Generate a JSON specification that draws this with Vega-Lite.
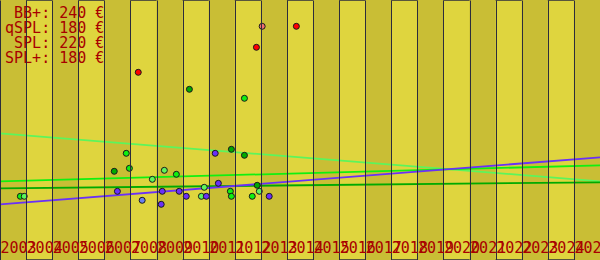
{
  "$schema": "https://vega.github.io/schema/vega-lite/v6.json",
  "width": 600,
  "height": 260,
  "autosize": {"type": "none"},
  "padding": 0,
  "background": "#dfd53e",
  "config": {"view": {"stroke": "#2c2c3c", "strokeWidth": 1.5}},
  "datasets": {
    "baender": [
      {"von": 2003, "bis": 2004}, {"von": 2005, "bis": 2006}, {"von": 2007, "bis": 2008},
      {"von": 2009, "bis": 2010}, {"von": 2011, "bis": 2012}, {"von": 2013, "bis": 2014},
      {"von": 2015, "bis": 2016}, {"von": 2017, "bis": 2018}, {"von": 2019, "bis": 2020},
      {"von": 2021, "bis": 2022}, {"von": 2023, "bis": 2024}, {"von": 2025, "bis": 2026}
    ],
    "trends": [
      {"gruppe": "SPL+", "jahr": 2003, "preis": 126.7}, {"gruppe": "SPL+", "jahr": 2026, "preis": 78.7},
      {"gruppe": "SPL", "jahr": 2003, "preis": 78.7}, {"gruppe": "SPL", "jahr": 2026, "preis": 94.7},
      {"gruppe": "qSPL", "jahr": 2003, "preis": 71.7}, {"gruppe": "qSPL", "jahr": 2026, "preis": 77.7},
      {"gruppe": "BB+", "jahr": 2003, "preis": 55.7}, {"gruppe": "BB+", "jahr": 2026, "preis": 102.7}
    ],
    "angebote": [
      {"gruppe": "Top", "jahr": 2008.30, "preis": 187.7},
      {"gruppe": "Top", "jahr": 2012.83, "preis": 212.7},
      {"gruppe": "Top", "jahr": 2014.36, "preis": 233.7},
      {"gruppe": "Top2", "jahr": 2013.05, "preis": 233.7},
      {"gruppe": "qSPL", "jahr": 2010.26, "preis": 170.7},
      {"gruppe": "qSPL", "jahr": 2007.38, "preis": 88.7},
      {"gruppe": "qSPL", "jahr": 2011.87, "preis": 110.7},
      {"gruppe": "qSPL", "jahr": 2012.37, "preis": 104.7},
      {"gruppe": "qSPL", "jahr": 2012.86, "preis": 74.7},
      {"gruppe": "SPL", "jahr": 2012.37, "preis": 161.7},
      {"gruppe": "SPL", "jahr": 2003.78, "preis": 63.7},
      {"gruppe": "SPL", "jahr": 2007.84, "preis": 106.7},
      {"gruppe": "SPL", "jahr": 2007.96, "preis": 91.7},
      {"gruppe": "SPL", "jahr": 2009.76, "preis": 85.7},
      {"gruppe": "SPL", "jahr": 2011.83, "preis": 68.7},
      {"gruppe": "SPL", "jahr": 2011.87, "preis": 63.7},
      {"gruppe": "SPL", "jahr": 2012.67, "preis": 63.7},
      {"gruppe": "SPL+", "jahr": 2003.93, "preis": 63.7},
      {"gruppe": "SPL+", "jahr": 2008.84, "preis": 80.7},
      {"gruppe": "SPL+", "jahr": 2009.30, "preis": 89.7},
      {"gruppe": "SPL+", "jahr": 2010.83, "preis": 72.7},
      {"gruppe": "SPL+", "jahr": 2010.72, "preis": 63.7},
      {"gruppe": "SPL+", "jahr": 2012.94, "preis": 68.7},
      {"gruppe": "BB+", "jahr": 2007.50, "preis": 68.7},
      {"gruppe": "BB+", "jahr": 2009.22, "preis": 68.7},
      {"gruppe": "BB+", "jahr": 2009.18, "preis": 55.7},
      {"gruppe": "BB+", "jahr": 2009.87, "preis": 68.7},
      {"gruppe": "BB+", "jahr": 2010.14, "preis": 63.7},
      {"gruppe": "BB+", "jahr": 2010.91, "preis": 63.7},
      {"gruppe": "BB+", "jahr": 2011.25, "preis": 106.7},
      {"gruppe": "BB+", "jahr": 2011.37, "preis": 76.7},
      {"gruppe": "BB+", "jahr": 2013.32, "preis": 63.7},
      {"gruppe": "BB", "jahr": 2008.45, "preis": 59.7}
    ],
    "preise": [
      {"zeilen": ["BB+: 240 €", "qSPL: 180 €", " SPL: 220 €", "SPL+: 180 €"]}
    ]
  },
  "layer": [
    {
      "data": {"name": "baender"},
      "mark": {"type": "rect", "color": "#c9be35"},
      "encoding": {
        "x": {
          "field": "von", "type": "quantitative",
          "scale": {"domain": [2003, 2026], "nice": false, "zero": false},
          "axis": {
            "values": [2003, 2004, 2005, 2006, 2007, 2008, 2009, 2010, 2011, 2012, 2013, 2014, 2015, 2016, 2017, 2018, 2019, 2020, 2021, 2022, 2023, 2024, 2025],
            "tickCount": 40,
            "format": "d",
            "title": null,
            "domain": false,
            "ticks": false,
            "tickSize": 0,
            "grid": true,
            "gridColor": "#2c2c3c",
            "gridOpacity": 1,
            "gridWidth": 1,
            "offset": -8,
            "labelPadding": 0,
            "labelAlign": "left",
            "labelBaseline": "alphabetic",
            "labelColor": "#a80000",
            "labelFont": "DejaVu Sans Mono",
            "labelFontSize": 15,
            "labelOverlap": false,
            "labelBound": false,
            "labelFlush": false,
            "zindex": 1
          }
        },
        "x2": {"field": "bis"}
      }
    },
    {
      "data": {"name": "trends"},
      "mark": {"type": "line", "strokeWidth": 1.8},
      "encoding": {
        "x": {"field": "jahr", "type": "quantitative"},
        "y": {"field": "preis", "type": "quantitative", "scale": {"domain": [0, 260], "nice": false, "zero": false}, "axis": null},
        "color": {"field": "gruppe", "type": "nominal", "legend": null,
          "scale": {"domain": ["SPL+", "SPL", "qSPL", "BB+", "BB", "Top", "Top2"],
                    "range": ["#5cf55c", "#10f010", "#00aa00", "#6a30f8", "#6a80f0", "#ff0000", "#f07070"]}}
      }
    },
    {
      "data": {"name": "angebote"},
      "mark": {"type": "circle", "size": 36, "opacity": 1, "stroke": "#1a1a1a", "strokeWidth": 1},
      "encoding": {
        "x": {"field": "jahr", "type": "quantitative"},
        "y": {"field": "preis", "type": "quantitative"},
        "color": {"field": "gruppe", "type": "nominal"}
      }
    },
    {
      "data": {"name": "preise"},
      "mark": {"type": "text", "align": "right", "baseline": "top", "font": "DejaVu Sans Mono", "fontSize": 15, "lineHeight": 15, "color": "#a80000"},
      "encoding": {
        "x": {"datum": 2007.0},
        "y": {"datum": 254.2},
        "text": {"field": "zeilen", "type": "nominal"}
      }
    }
  ]
}
